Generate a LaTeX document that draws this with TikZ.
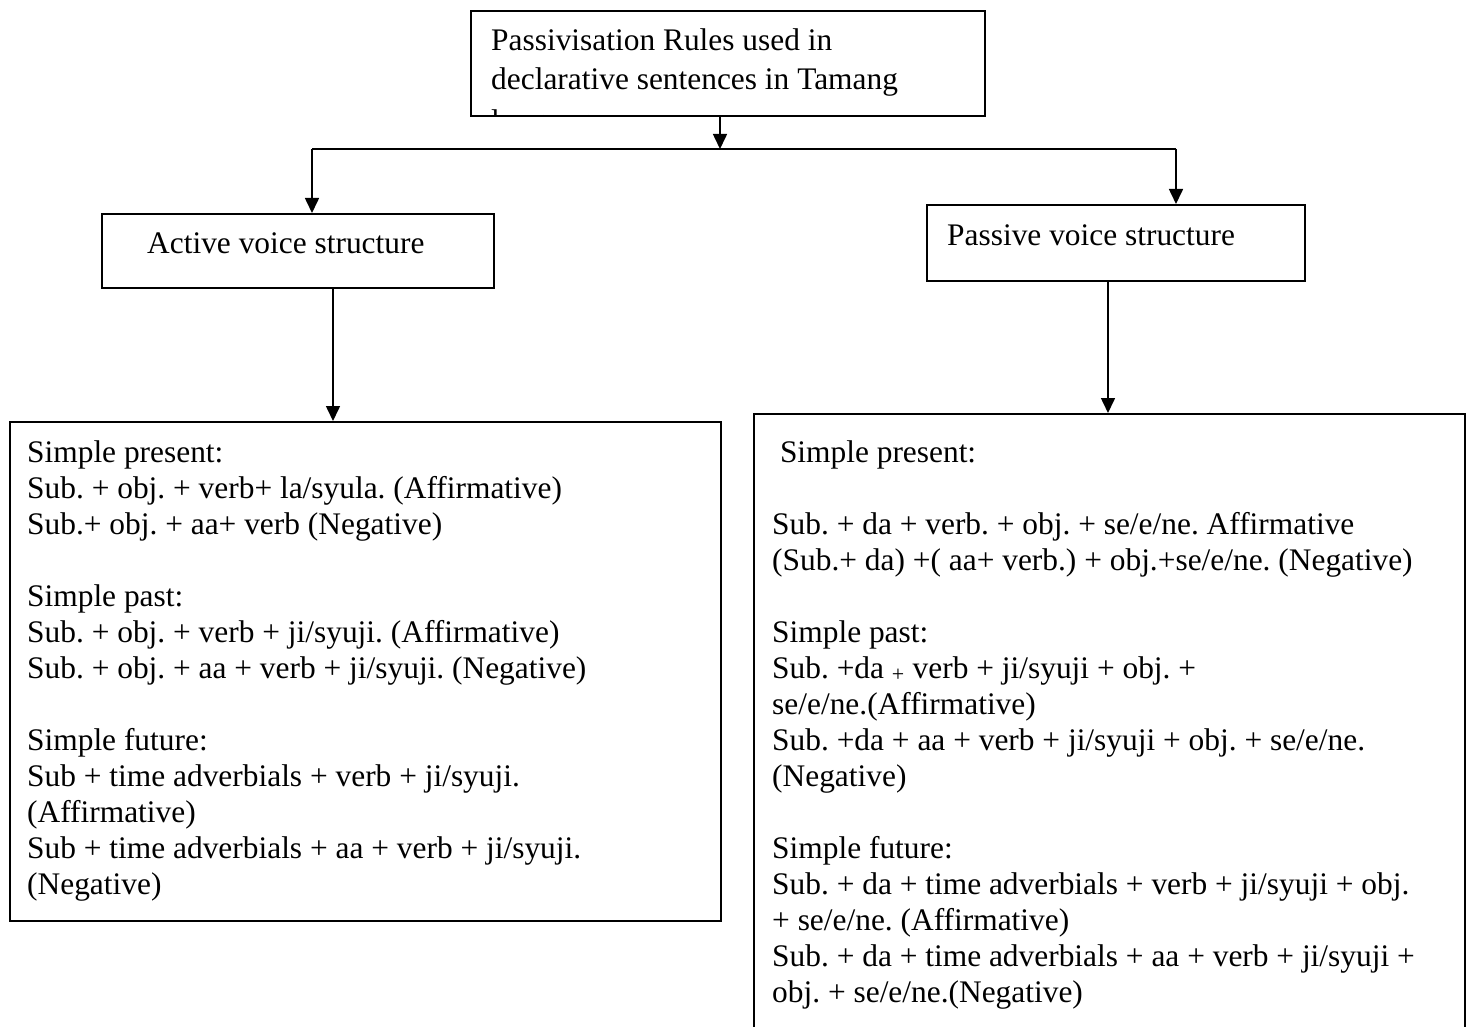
\documentclass[tikz,border=0pt]{standalone}
\usepackage{fontspec}
\setmainfont{Liberation Serif}
\usetikzlibrary{arrows.meta,calc}
\frenchspacing
\newcommand{\mylines}[1]{\begin{tabular}[t]{@{}l@{}}#1\end{tabular}}
\tikzset{
  box/.style={draw, line width=1.6pt, inner sep=0pt, anchor=north west},
  txt/.style={inner sep=0pt, anchor=base west, font=\fontsize{31.4}{36}\selectfont},
  arr/.style={line width=1.6pt, -{Triangle[length=15pt,width=14pt]}},
  con/.style={line width=1.6pt},
}
\begin{document}
\begin{tikzpicture}[x=1pt,y=-1pt]
\clip (0,0) rectangle (1470,1027);
\fill[white] (0,0) rectangle (1470,1027);
% boxes
\node[box, minimum width=514pt, minimum height=105pt] (title) at (470,10) {};
\node[box, minimum width=392pt, minimum height=74pt] (active) at (101,213) {};
\node[box, minimum width=378pt, minimum height=76pt] (passive) at (926,204) {};
\node[box, minimum width=711pt, minimum height=499pt] (actdet) at (9,421) {};
\node[box, minimum width=711pt, minimum height=660pt] (pasdet) at (753,413) {};
% texts
\begin{scope}
\clip (title.south west) rectangle (title.north east);
\node[txt, font=\fontsize{31.4}{39}\selectfont] (titletxt) at (491,51) {\mylines{Passivisation Rules used in\\declarative sentences in Tamang\\[3pt]language}};
\end{scope}
\node[txt] (acttxt) at (147,254) {Active voice structure};
\node[txt] (pastxt) at (947,245) {Passive voice structure};
\node[txt] (actdettxt) at (27,462) {\mylines{Simple present:\\
Sub. + obj. + verb+ la/syula. (Affirmative)\\
Sub.+ obj. + aa+ verb (Negative)\\[36pt]
Simple past:\\
Sub. + obj. + verb + ji/syuji. (Affirmative)\\
Sub. + obj. + aa + verb + ji/syuji. (Negative)\\[36pt]
Simple future:\\
Sub + time adverbials + verb + ji/syuji.\\
(Affirmative)\\
Sub + time adverbials + aa + verb + ji/syuji.\\
(Negative)}};
\node[txt] (pasdettxt) at (772,462) {\mylines{\hspace*{7.8pt}Simple present:\\[36pt]
Sub. + da + verb. + obj. + se/e/ne. Affirmative\\
(Sub.+ da) +( aa+ verb.) + obj.+se/e/ne. (Negative)\\[36pt]
Simple past:\\
Sub. +da \textsubscript{+} verb + ji/syuji + obj. +\\
se/e/ne.(Affirmative)\\
Sub. +da + aa + verb + ji/syuji + obj. + se/e/ne.\\
(Negative)\\[36pt]
Simple future:\\
Sub. + da + time adverbials + verb + ji/syuji + obj.\\
+ se/e/ne. (Affirmative)\\
Sub. + da + time adverbials + aa + verb + ji/syuji +\\
obj. + se/e/ne.(Negative)}};
% connectors
\coordinate (jn) at (720,149);
\coordinate (jl) at (312,149);
\coordinate (jr) at (1176,149);
\coordinate (a1) at (333,300);
\coordinate (p1) at (1108,300);
\draw[arr] (title.south -| jn) -- (jn);
\draw[con] (jl) -- (jr);
\draw[arr] (jl) -- (jl |- active.north);
\draw[arr] (jr) -- (jr |- passive.north);
\draw[arr] (a1 |- active.south) -- (a1 |- actdet.north);
\draw[arr] (p1 |- passive.south) -- (p1 |- pasdet.north);
\end{tikzpicture}
\end{document}
